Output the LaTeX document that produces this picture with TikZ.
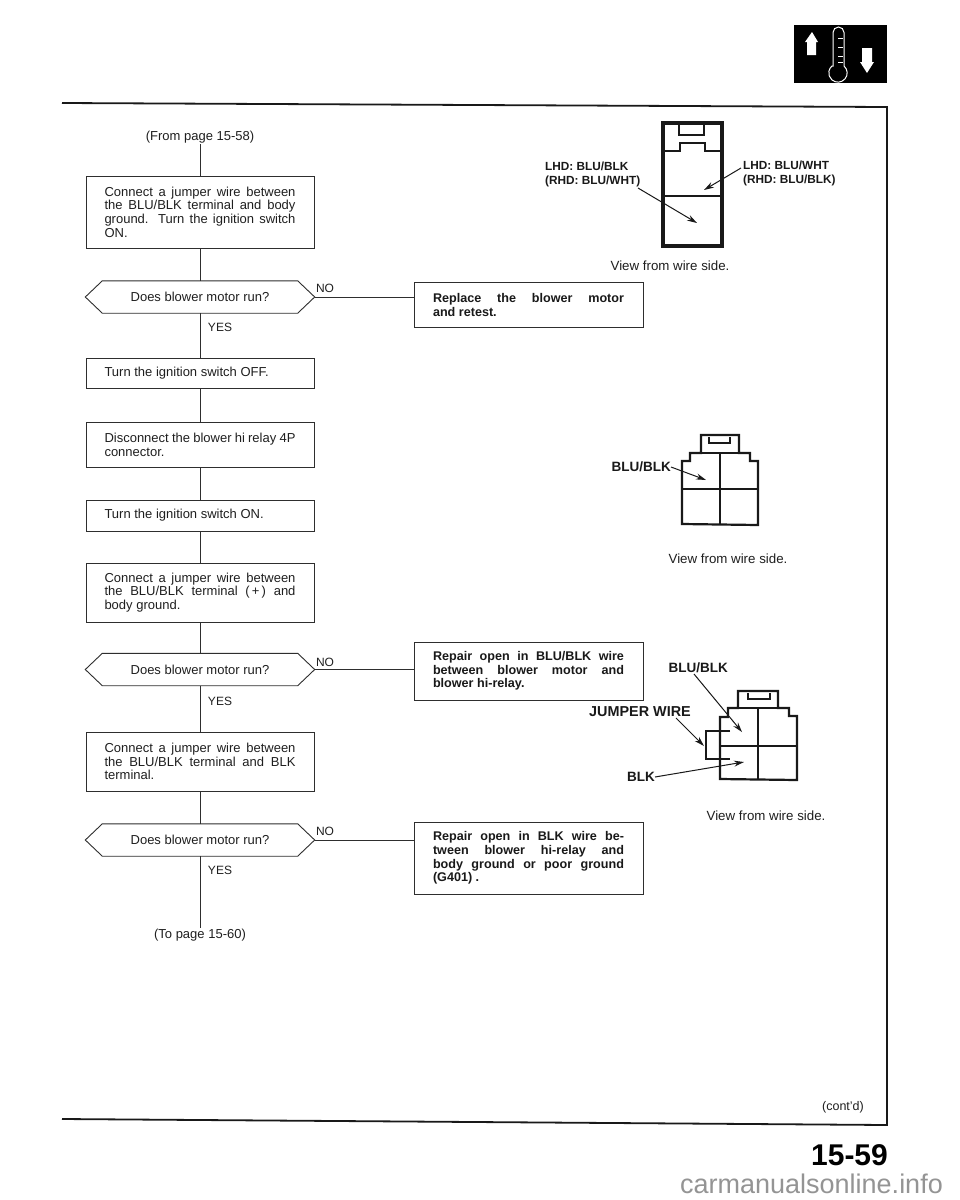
\documentclass[tikz,border=0pt]{standalone}
\usepackage{fontspec}
\setmainfont{Liberation Sans}
\usetikzlibrary{arrows.meta,calc}
\newcommand{\fs}[1]{\fontsize{#1}{13.7}\selectfont}
\newcommand{\jl}[1]{\makebox[191pt][s]{#1}}
\newcommand{\hexa}[1]{\draw[flowline] (#1.west) -- ($(#1.north west)+(17,0)$) -- ($(#1.north east)+(-17,0)$) -- (#1.east) -- ($(#1.south east)+(-17,0)$) -- ($(#1.south west)+(17,0)$) -- cycle;}
\tikzset{
  flowline/.style={draw=black!82,line width=0.9pt},
  flowbox/.style={flowline,rectangle,minimum width=228pt,inner sep=0pt,align=left,text=black!88,font=\fs{13}},
  fixbox/.style={flowline,rectangle,minimum width=229pt,inner sep=0pt,align=left,text=black!90,font=\fs{12.6}\bfseries},
  decision/.style={rectangle,minimum width=229pt,minimum height=32pt,inner sep=0pt,text=black!88,font=\fs{13}},
  plain/.style={inner sep=1pt,text=black!88,font=\fs{13}},
  small/.style={inner sep=0pt,text=black!88,font=\fs{12}},
  wirelabel/.style={inner sep=0pt,align=left,text=black!90,font=\fs{13.5}\bfseries},
  hdlabel/.style={inner sep=0pt,align=left,text=black!90,font=\fontsize{11.8}{14}\selectfont\bfseries},
  viewlabel/.style={inner sep=0pt,text=black!88,font=\fs{13.3}},
  housing/.style={draw=black!90,line width=2.2pt,line join=miter},
  thin/.style={draw=black!90,line width=1.2pt},
  pointer/.style={draw=black!90,line width=1pt,-{Stealth[length=10pt,width=6pt]}},
  frame/.style={draw=black!90,line width=1.8pt},
  iconline/.style={draw=white,line width=1pt}
}
\begin{document}
\begin{tikzpicture}[x=1pt,y=-1pt]
\useasboundingbox (0,0) rectangle (960,1200);
\fill[white] (0,0) rectangle (960,1200);

% page frame
\draw[frame] (62,103) -- (887,107) -- (887,1125) -- (62,1119);
\node[plain,inner sep=0pt,font=\fs{12.5}] (contd) at (843,1107) {(cont'd)};
\node[inner sep=0pt,text=black,font=\fontsize{30}{32}\selectfont\bfseries] (pg) at (849.5,1155) {15-59};
\node[inner sep=0pt,text=black!42,font=\fontsize{27}{30}\selectfont] (wm) at (811.5,1184) {carmanualsonline.info};

% icon
\fill[black] (794,25) rectangle (887,83);
\fill[white] (812,32) -- (818,42) -- (816,42) -- (816,55) -- (807,55) -- (807,42) -- (805,42) -- cycle;
\fill[white] (867,73) -- (874,62) -- (872,62) -- (872,48) -- (862,48) -- (862,62) -- (860,62) -- cycle;
\draw[iconline] (833,66) -- (833,32.5) arc (180:360:5.5) -- (844,66) arc (-49:229:9.2) -- cycle;
\foreach \yy in {38,47,56,62}{\draw[white,line width=0.7pt] (838,\yy) -- (843,\yy);}

% flow chart
\node[plain] (from) at (200,137) {(From page 15-58)};
\node[flowbox,minimum height=72pt] (b1) at (200,212) {\jl{Connect a jumper wire between}\\\jl{the BLU/BLK terminal and body}\\\jl{ground. Turn the ignition switch}\\\jl{ON.\hfill}};
\node[decision] (d1) at (200,297) {Does blower motor run?};
\node[flowbox,minimum height=30pt] (b2) at (200,373) {\jl{Turn the ignition switch OFF.\hfill}};
\node[flowbox,minimum height=45pt] (b3) at (200,444.5) {\jl{Disconnect the blower hi relay 4P}\\\jl{connector.\hfill}};
\node[flowbox,minimum height=31pt] (b4) at (200,515.5) {\jl{Turn the ignition switch ON.\hfill}};
\node[flowbox,minimum height=59pt] (b5) at (200,592.5) {\jl{Connect a jumper wire between}\\\jl{the BLU/BLK terminal (\,+\,) and}\\\jl{body ground.\hfill}};
\node[decision] (d2) at (200,669.5) {Does blower motor run?};
\node[flowbox,minimum height=59pt] (b6) at (200,761.5) {\jl{Connect a jumper wire between}\\\jl{the BLU/BLK terminal and BLK}\\\jl{terminal.\hfill}};
\node[decision] (d3) at (200,840) {Does blower motor run?};
\node[plain] (to) at (200,935) {(To page 15-60)};
\hexa{d1}\hexa{d2}\hexa{d3}

\node[fixbox,minimum height=45pt] (r1) at (528.5,305) {\jl{Replace the blower motor}\\\jl{and retest.\hfill}};
\node[fixbox,minimum height=58pt] (r2) at (528.5,671) {\jl{Repair open in BLU/BLK wire}\\\jl{between blower motor and}\\\jl{blower hi-relay.\hfill}};
\node[fixbox,minimum height=72pt] (r3) at (528.5,858) {\jl{Repair open in BLK wire be-}\\\jl{tween blower hi-relay and}\\\jl{body ground or poor ground}\\\jl{(G401) .\hfill}};

\draw[flowline] (from.south) -- (b1.north);
\draw[flowline] (b1.south) -- (d1.north);
\draw[flowline] (d1.south) -- (b2.north);
\draw[flowline] (b2.south) -- (b3.north);
\draw[flowline] (b3.south) -- (b4.north);
\draw[flowline] (b4.south) -- (b5.north);
\draw[flowline] (b5.south) -- (d2.north);
\draw[flowline] (d2.south) -- (b6.north);
\draw[flowline] (b6.south) -- (d3.north);
\draw[flowline] (d3.south) -- (to.north);
\draw[flowline] (d1.east) -- (d1.east -| r1.west);
\draw[flowline] (d2.east) -- (d2.east -| r2.west);
\draw[flowline] (d3.east) -- (d3.east -| r3.west);

\node[small] (no1) at (325,288) {NO};
\node[small] (no2) at (325,662) {NO};
\node[small] (no3) at (325,831) {NO};
\node[small] (yes1) at (220,327) {YES};
\node[small] (yes2) at (220,701) {YES};
\node[small] (yes3) at (220,870) {YES};

% connector 1
\draw[housing,line width=3.2pt] (663,123) rectangle (722,246);
\draw[thin] (663,196) -- (722,196);
\draw[thin] (665,151) -- (680,151) -- (680,143) -- (705,143) -- (705,151) -- (720,151);
\draw[thin] (679,124) -- (679,135) -- (704,135) -- (704,124);
\node[hdlabel,anchor=west] (l1) at (545,174.5) {LHD: BLU/BLK\\(RHD: BLU/WHT)};
\node[hdlabel,anchor=west] (l2) at (743,173.5) {LHD: BLU/WHT\\(RHD: BLU/BLK)};
\coordinate (t1) at (697,223);
\coordinate (t2) at (704,190);
\coordinate (s1) at (638,188);
\coordinate (s2) at (741,168);
\draw[pointer] (s1) -- (t1);
\draw[pointer] (s2) -- (t2);
\node[viewlabel] (v1) at (670,266) {View from wire side.};

% connector 2
\draw[housing] (682,524) -- (682,461) -- (690,461) -- (690,453) -- (701,453) -- (701,435) -- (739,435) -- (739,453) -- (750,453) -- (750,461) -- (758,461) -- (758,525) -- cycle;
\draw[thin] (701,453) -- (739,453);
\draw[thin] (720,453) -- (720,524);
\draw[thin] (682,489) -- (758,489);
\draw[thin] (709,437) -- (709,443) -- (730,443) -- (730,437);
\node[wirelabel,anchor=east] (l3) at (671,467) {BLU/BLK};
\coordinate (t3) at (706,480);
\draw[pointer] (l3.east) -- (t3);
\node[viewlabel] (v2) at (728,559) {View from wire side.};

% connector 3
\draw[housing] (720,779) -- (720,717) -- (728,717) -- (728,708) -- (738,708) -- (738,691) -- (778,691) -- (778,708) -- (789,708) -- (789,716) -- (797,716) -- (797,780) -- cycle;
\draw[thin] (738,708) -- (778,708);
\draw[thin] (758,708) -- (758,780);
\draw[thin] (720,746) -- (797,746);
\draw[thin] (748,693) -- (748,699) -- (770,699) -- (770,693);
\draw[thin] (730,731) -- (706,731) -- (706,759) -- (730,759);
\node[wirelabel,anchor=east] (l4) at (728,668) {BLU/BLK};
\node[wirelabel,anchor=east,font=\fs{14.4}\bfseries] (l5) at (691,712) {JUMPER WIRE};
\node[wirelabel,anchor=east] (l6) at (655,777) {BLK};
\coordinate (s4) at (694,674);
\coordinate (t4) at (742,732);
\coordinate (s5) at (676,718);
\coordinate (t5) at (704,746);
\coordinate (t6) at (744,762);
\draw[pointer] (s4) -- (t4);
\draw[pointer] (s5) -- (t5);
\draw[pointer] (l6.east) -- (t6);
\node[viewlabel] (v3) at (766,816) {View from wire side.};
\end{tikzpicture}
\end{document}
